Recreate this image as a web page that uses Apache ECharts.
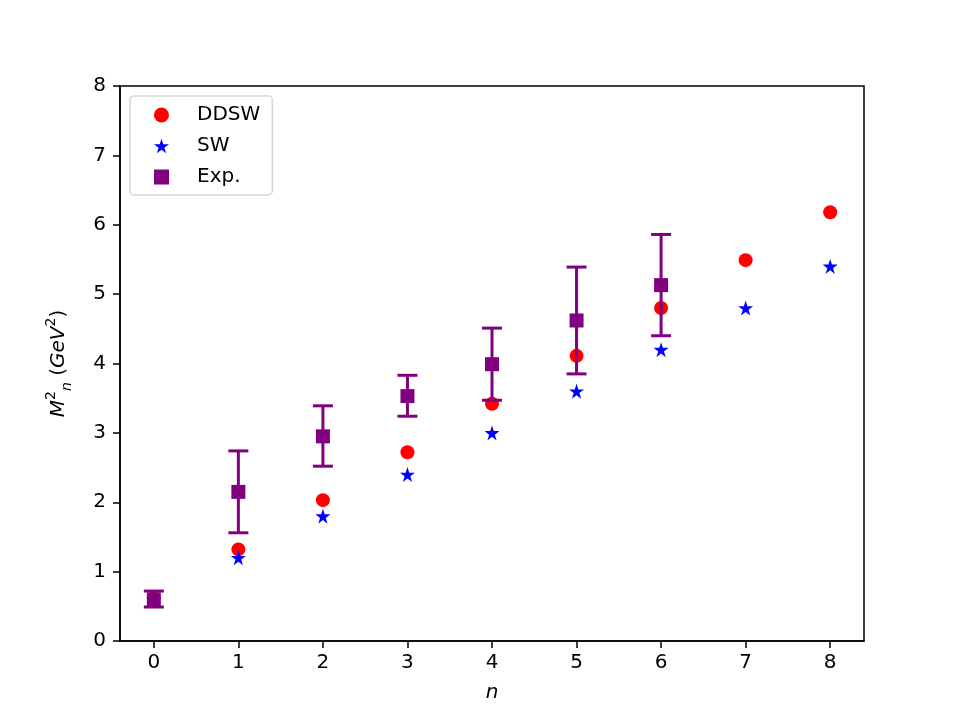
<!DOCTYPE html>
<html>
<head>
<meta charset="utf-8">
<script src="https://cdn.jsdelivr.net/npm/echarts@6/dist/echarts.min.js"></script>
<style>
  html, body { margin: 0; padding: 0; background: #fff; }
  #chart { width: 960px; height: 720px; }
</style>
</head>
<body>
<div id="chart"></div>
<script>
// 数据
const nValues = [0, 1, 2, 3, 4, 5, 6, 7, 8];
const ddsw = [0.62, 1.32, 2.03, 2.72, 3.42, 4.11, 4.80, 5.49, 6.18];
const sw = [0.60, 1.20, 1.80, 2.40, 3.00, 3.60, 4.20, 4.80, 5.40];
const expN = [0, 1, 2, 3, 4, 5, 6];
const expVal = [0.60, 2.15, 2.95, 3.53, 3.99, 4.62, 5.13];
const expLow = [0.49, 1.56, 2.52, 3.24, 3.47, 3.85, 4.40];
const expHigh = [0.72, 2.74, 3.39, 3.83, 4.51, 5.39, 5.86];
const yTicks = [0, 1, 2, 3, 4, 5, 6, 7, 8];

const FONT = 'DejaVu Sans';
const starPath = 'path://M0,-1 L0.2245,-0.309 L0.951,-0.309 L0.363,0.118 L0.588,0.809 L0,0.382 L-0.588,0.809 L-0.363,0.118 L-0.951,-0.309 L-0.2245,-0.309 Z';

const chart = echarts.init(document.getElementById('chart'));

const errData = expN.map((n, i) => [n, expLow[i], expHigh[i]]);

chart.setOption({
    animation: false,
    backgroundColor: '#fff',
    textStyle: { fontFamily: FONT },
    grid: {
        left: 120, right: 96, top: 86, bottom: 79,
        show: true, borderColor: '#000', borderWidth: 1.5, backgroundColor: 'transparent'
    },
    legend: {
        orient: 'vertical',
        left: 130, top: 96,
        padding: [9, 12, 8, 24],
        itemGap: 11,
        itemWidth: 15, itemHeight: 15,
        backgroundColor: '#fff',
        borderColor: '#d5d5d5', borderWidth: 1.5, borderRadius: 4,
        textStyle: { fontFamily: FONT, fontSize: 20, color: '#000', padding: [0, 0, 0, 23] },
        data: ['DDSW', 'SW', 'Exp.']
    },
    xAxis: {
        type: 'value',
        min: -0.4, max: 8.4,
        name: 'n',
        nameLocation: 'middle',
        nameGap: 42,
        nameTextStyle: { fontFamily: FONT, fontSize: 20, fontStyle: 'italic', color: '#000' },
        axisLine: { show: true, onZero: false, lineStyle: { color: '#000', width: 1.5 } },
        axisTick: { show: true, customValues: nValues, length: 7, lineStyle: { color: '#000', width: 1.5 } },
        axisLabel: { customValues: nValues, fontFamily: FONT, fontSize: 20, color: '#000', margin: 12 },
        splitLine: { show: false }
    },
    yAxis: {
        type: 'value',
        min: 0, max: 8, interval: 1,
        name: '{m|M}{sup|2}{sub|n}{t| (}{i|GeV}{sup|2}{t|)}',
        nameLocation: 'middle',
        nameGap: 46,
        nameRotate: 90,
        nameTextStyle: {
            color: '#000',
            rich: {
                m: { fontFamily: FONT, fontSize: 20, lineHeight: 30, fontStyle: 'italic', color: '#000' },
                i: { fontFamily: FONT, fontSize: 20, lineHeight: 30, fontStyle: 'italic', color: '#000' },
                t: { fontFamily: FONT, fontSize: 20, lineHeight: 30, color: '#000' },
                sup: { fontFamily: FONT, fontSize: 14, lineHeight: 14, color: '#000', verticalAlign: 'top' },
                sub: { fontFamily: FONT, fontSize: 14, lineHeight: 14, fontStyle: 'italic', color: '#000', verticalAlign: 'bottom' }
            }
        },
        axisLine: { show: true, onZero: false, lineStyle: { color: '#000', width: 1.5 } },
        axisTick: { show: true, length: 7, lineStyle: { color: '#000', width: 1.5 } },
        axisLabel: { fontFamily: FONT, fontSize: 20, color: '#000', margin: 14,
            formatter: v => yTicks.includes(v) ? String(v) : '' },
        splitLine: { show: false }
    },
    series: [
        {
            name: 'DDSW', type: 'scatter',
            symbol: 'circle', symbolSize: 14,
            itemStyle: { color: '#ff0000', opacity: 1 },
            data: nValues.map((n, i) => [n, ddsw[i]]),
            z: 2
        },
        {
            name: 'SW', type: 'scatter',
            symbol: starPath, symbolSize: 15,
            itemStyle: { color: '#0000ff', opacity: 1 },
            data: nValues.map((n, i) => [n, sw[i]]),
            z: 3
        },
        {
            name: 'ExpErr', type: 'custom',
            data: errData,
            z: 4,
            renderItem: function (params, api) {
                const lo = api.coord([api.value(0), api.value(1)]);
                const hi = api.coord([api.value(0), api.value(2)]);
                const cap = 10;
                const style = { stroke: '#800080', lineWidth: 3 };
                return {
                    type: 'group',
                    children: [
                        { type: 'line', shape: { x1: lo[0], y1: lo[1], x2: hi[0], y2: hi[1] }, style: style },
                        { type: 'line', shape: { x1: lo[0] - cap, y1: lo[1], x2: lo[0] + cap, y2: lo[1] }, style: style },
                        { type: 'line', shape: { x1: hi[0] - cap, y1: hi[1], x2: hi[0] + cap, y2: hi[1] }, style: style }
                    ]
                };
            }
        },
        {
            name: 'Exp.', type: 'scatter',
            symbol: 'rect', symbolSize: 14,
            itemStyle: { color: '#800080', opacity: 1 },
            data: expN.map((n, i) => [n, expVal[i]]),
            z: 5
        }
    ]
});
</script>
</body>
</html>
